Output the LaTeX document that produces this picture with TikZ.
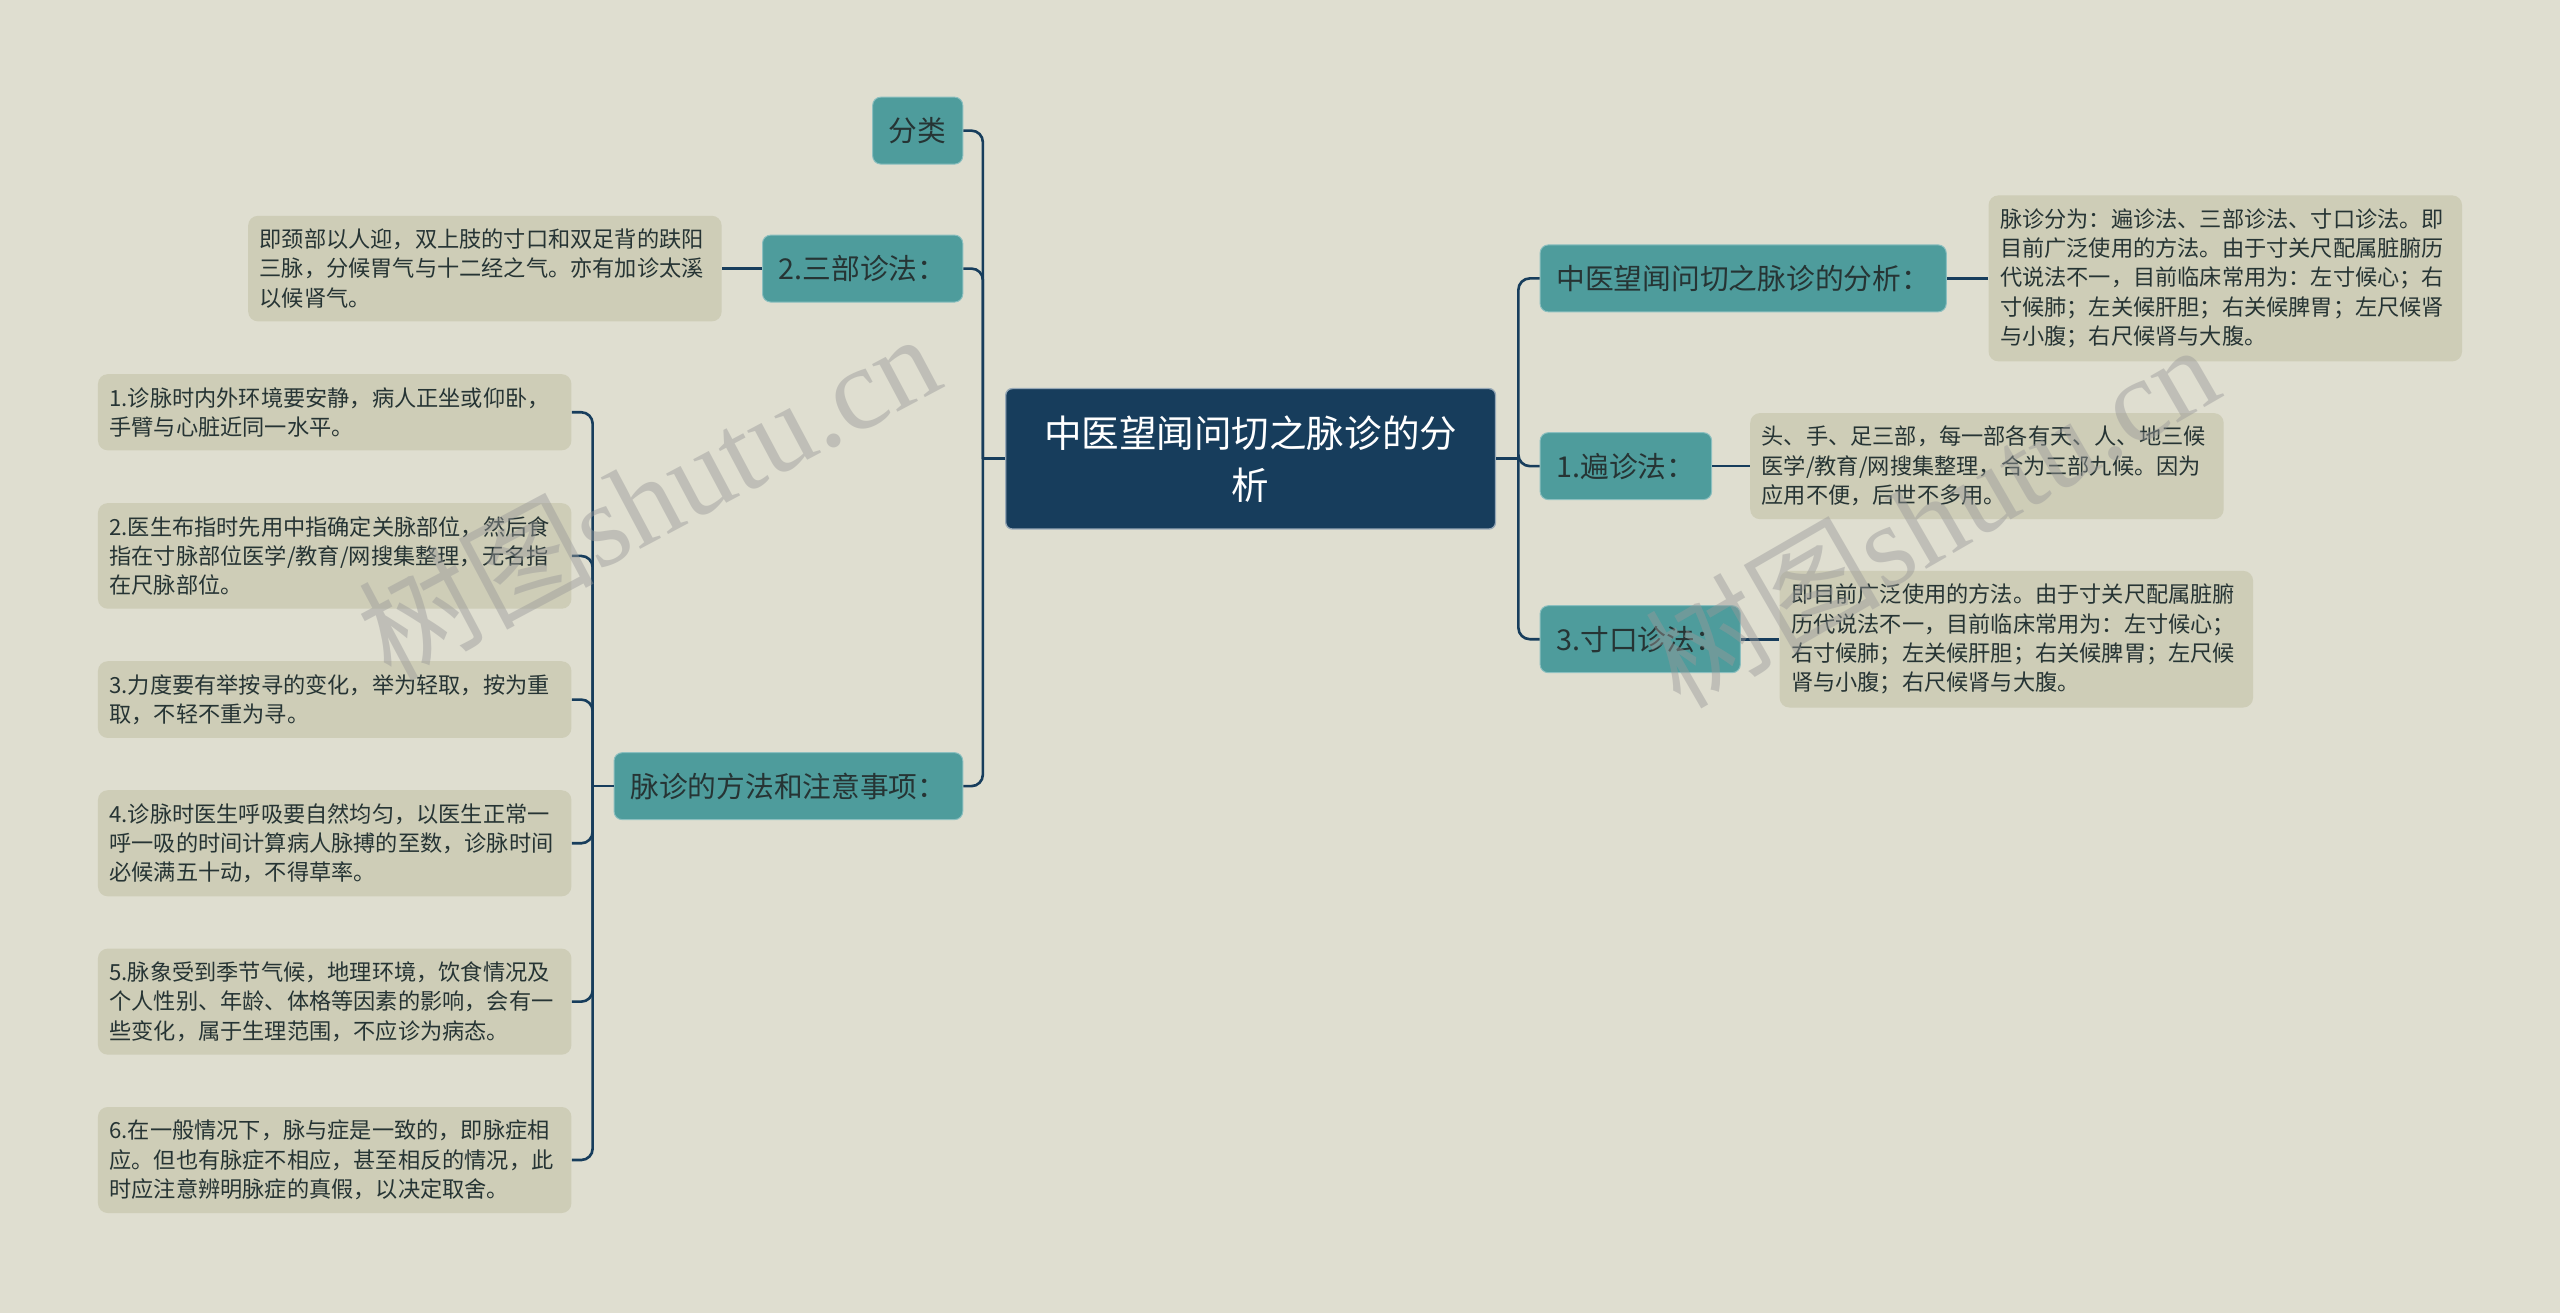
\documentclass[tikz,border=0pt]{standalone}
\usepackage{fontspec}
\setmainfont{Noto Sans CJK SC}
\newfontfamily\wmfont{Liberation Serif}
\definecolor{bgc}{HTML}{DFDED0}
\definecolor{navy}{HTML}{173D5C}
\definecolor{tealc}{HTML}{4E9C9C}
\definecolor{leafc}{HTML}{CECDB7}
\definecolor{inkc}{HTML}{263434}

\begin{document}
\begin{tikzpicture}[x=1pt,y=-1pt]
  \tikzstyle{root}=[rectangle,rounded corners=4pt,fill=navy,draw=white!55!navy,line width=0.8pt,text=white,font=\fontsize{23}{32}\selectfont,align=center,minimum width=300pt,minimum height=86pt]
  \tikzstyle{branch}=[rectangle,rounded corners=5pt,fill=tealc,draw=white!35!tealc,line width=0.6pt,text=inkc,font=\fontsize{17.6}{20}\selectfont,minimum height=41pt,inner xsep=10pt]
  \tikzstyle{leaf}=[rectangle,rounded corners=6pt,fill=leafc,text=inkc,font=\fontsize{13.6}{18}\selectfont,align=left,text width=276pt,inner xsep=7pt,inner ysep=8pt]
  \tikzstyle{link}=[draw=navy,line width=1.6pt,rounded corners=7pt]
  \tikzstyle{wmark}=[text=black!40,opacity=0.45,font=\fontsize{72}{76}\selectfont]

\fill [bgc] (0,0) rectangle (1568,804);
\useasboundingbox (0,0) rectangle (1568,804);

\node [root] (rt) at (766,281) {中医望闻问切之脉诊的分\\析};

% left side
\node [branch,anchor=east] (l1) at (590,80) {分类};
\node [branch,anchor=east] (l2) at (590,164.5) {2.三部诊法：};
\node [branch,anchor=east] (l3) at (590,481.5) {脉诊的方法和注意事项：};

\node [leaf] (l2a) at (297,164.5) {即颈部以人迎，双上肢的寸口和双足背的趺阳\\三脉，分候胃气与十二经之气。亦有加诊太溪\\以候肾气。};

\node [leaf] (l3a) at (205,252.5) {1.诊脉时内外环境要安静，病人正坐或仰卧，\\手臂与心脏近同一水平。};
\node [leaf] (l3b) at (205,340.5) {2.医生布指时先用中指确定关脉部位，然后食\\指在寸脉部位医学/教育/网搜集整理，无名指\\在尺脉部位。};
\node [leaf] (l3c) at (205,428.5) {3.力度要有举按寻的变化，举为轻取，按为重\\取，不轻不重为寻。};
\node [leaf] (l3d) at (205,516.5) {4.诊脉时医生呼吸要自然均匀，以医生正常一\\呼一吸的时间计算病人脉搏的至数，诊脉时间\\必候满五十动，不得草率。};
\node [leaf] (l3e) at (205,613.5) {5.脉象受到季节气候，地理环境，饮食情况及\\个人性别、年龄、体格等因素的影响，会有一\\些变化，属于生理范围，不应诊为病态。};
\node [leaf] (l3f) at (205,710.5) {6.在一般情况下，脉与症是一致的，即脉症相\\应。但也有脉症不相应，甚至相反的情况，此\\时应注意辨明脉症的真假，以决定取舍。};

% right side
\node [branch,anchor=west] (r1) at (943,170.5) {中医望闻问切之脉诊的分析：};
\node [branch,anchor=west] (r2) at (943,285.5) {1.遍诊法：};
\node [branch,anchor=west] (r3) at (943,391.5) {3.寸口诊法：};

\node [leaf] (r1a) at (1363,170.5) {脉诊分为：遍诊法、三部诊法、寸口诊法。即\\目前广泛使用的方法。由于寸关尺配属脏腑历\\代说法不一，目前临床常用为：左寸候心；右\\寸候肺；左关候肝胆；右关候脾胃；左尺候肾\\与小腹；右尺候肾与大腹。};
\node [leaf] (r2a) at (1217,285.5) {头、手、足三部，每一部各有天、人、地三候\\医学/教育/网搜集整理，合为三部九候。因为\\应用不便，后世不多用。};
\node [leaf] (r3a) at (1235,391.5) {即目前广泛使用的方法。由于寸关尺配属脏腑\\历代说法不一，目前临床常用为：左寸候心；\\右寸候肺；左关候肝胆；右关候脾胃；左尺候\\肾与小腹；右尺候肾与大腹。};

% connectors
\coordinate (lt) at (602,281);
\coordinate (mt) at (363,481.5);
\coordinate (rk) at (930,281);

\draw [link] (rt.west) -- (lt);
\draw [link] (lt) |- (l1.east);
\draw [link] (lt) |- (l2.east);
\draw [link] (lt) |- (l3.east);
\draw [link] (l2.west) -- (l2a.east);

\draw [link] (l3.west) -- (mt);
\draw [link] (mt) |- (l3a.east);
\draw [link] (mt) |- (l3b.east);
\draw [link] (mt) |- (l3c.east);
\draw [link] (mt) |- (l3d.east);
\draw [link] (mt) |- (l3e.east);
\draw [link] (mt) |- (l3f.east);

\draw [link] (rt.east) -- (rk);
\draw [link] (rk) |- (r1.west);
\draw [link] (rk) |- (r2.west);
\draw [link] (rk) |- (r3.west);
\draw [link] (r1.east) -- (r1a.west);
\draw [link] (r2.east) -- (r2a.west);
\draw [link] (r3.east) -- (r3a.west);

% watermarks
\node [wmark,rotate=28] (w1) at (397,303) {树图\wmfont shutu.cn};
\node [wmark,rotate=30] (w2) at (1183,315) {树图\wmfont shutu.cn};
\end{tikzpicture}
\end{document}
